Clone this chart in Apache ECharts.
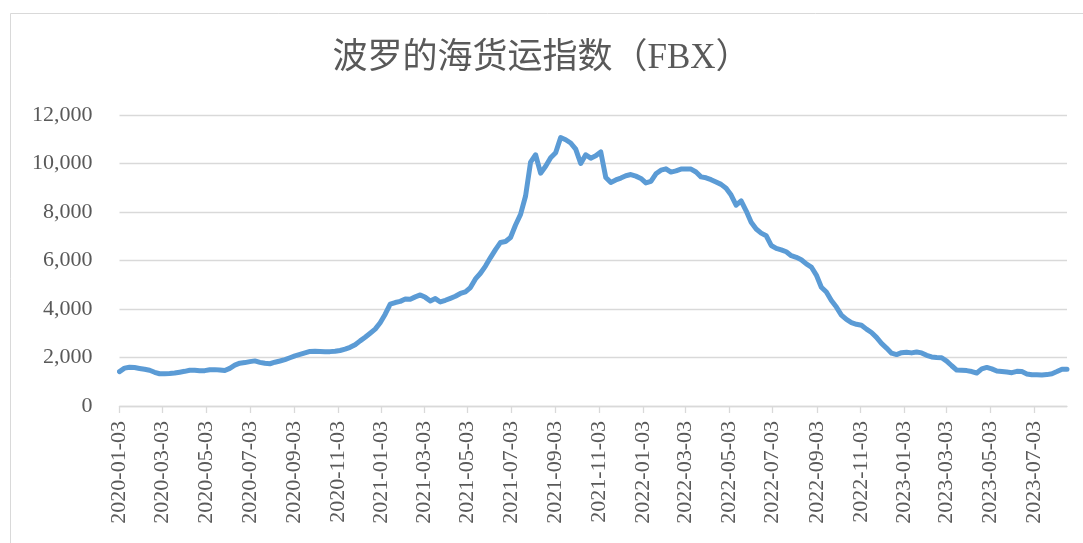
<!DOCTYPE html>
<html>
<head>
<meta charset="utf-8">
<title>波罗的海货运指数（FBX）</title>
<script src="https://cdn.jsdelivr.net/npm/echarts@6/dist/echarts.min.js"></script>
<style>
    html, body { margin: 0; padding: 0; background: #fff; }
    #fbxChart { width: 1083px; height: 543px; }
</style>
</head>
<body>
<div id="fbxChart"></div>
<script>
    // weekly readings, every Friday starting 2020-01-03
    var startDate = [2020, 1, 3];
    var fbxValues = [
        1420, 1560, 1600, 1585, 1550, 1515, 1475, 1390, 1330, 1335,
        1340, 1360, 1395, 1430, 1475, 1472, 1453, 1458, 1495, 1500,
        1482, 1462, 1553, 1683, 1765, 1790, 1830, 1860, 1800, 1760,
        1742, 1805, 1855, 1915, 1990, 2070, 2130, 2190, 2252, 2258,
        2248, 2240, 2242, 2258, 2290, 2345, 2420, 2525, 2685, 2835,
        3000, 3170, 3435, 3785, 4200, 4268, 4315, 4410, 4400, 4500,
        4580, 4480, 4330, 4430, 4290, 4360, 4440, 4525, 4640, 4708,
        4885, 5240, 5475, 5770, 6120, 6450, 6745, 6785, 6950, 7465,
        7900, 8660, 10060, 10360, 9600, 9885, 10240, 10445, 11070, 10980,
        10845, 10590, 10000, 10360, 10220, 10320, 10480, 9420, 9220, 9322,
        9400, 9497, 9545, 9480, 9385, 9200, 9265, 9575, 9725, 9780,
        9645, 9695, 9770, 9778, 9772, 9650, 9450, 9410, 9335, 9235,
        9140, 8980, 8700, 8280, 8460, 8050, 7580, 7300, 7130, 7020,
        6620, 6500, 6440, 6360, 6200, 6130, 6030, 5860, 5730, 5400,
        4900, 4700, 4350, 4080, 3750, 3570, 3440, 3370, 3330, 3170,
        3030, 2830, 2580, 2390, 2180, 2120, 2200, 2220, 2190, 2230,
        2190, 2090, 2025, 2000, 1990, 1850, 1660, 1480, 1470, 1460,
        1420, 1360, 1530, 1590, 1530, 1440, 1420, 1400, 1375, 1430,
        1420, 1320, 1285, 1285, 1282, 1295, 1330, 1420, 1520, 1520
    ];
    // x axis labels sit on the 3rd of every second month
    var tickDates = [
        '2020-01-03', '2020-03-03', '2020-05-03', '2020-07-03', '2020-09-03', '2020-11-03',
        '2021-01-03', '2021-03-03', '2021-05-03', '2021-07-03', '2021-09-03', '2021-11-03',
        '2022-01-03', '2022-03-03', '2022-05-03', '2022-07-03', '2022-09-03', '2022-11-03',
        '2023-01-03', '2023-03-03', '2023-05-03', '2023-07-03'
    ];
    var yTicks = { min: 0, max: 12000, step: 2000 };

    var toTime = function (s) {
        var p = s.split('-');
        return new Date(+p[0], +p[1] - 1, +p[2]).getTime();
    };
    var pad = function (n) { return n < 10 ? '0' + n : '' + n; };
    var fmtDate = function (t) {
        var d = new Date(t);
        return d.getFullYear() + '-' + pad(d.getMonth() + 1) + '-' + pad(d.getDate());
    };

    var seriesData = fbxValues.map(function (v, i) {
        var t = new Date(startDate[0], startDate[1] - 1, startDate[2] + 7 * i).getTime();
        return [t, v];
    });
    var tickTimes = tickDates.map(toTime);

    var labelFont = '"Liberation Serif", "Times New Roman", serif';
    var chart = echarts.init(document.getElementById('fbxChart'));
    var option = {
        animation: false,
        backgroundColor: '#ffffff',
        title: {
            text: '波罗的海货运指数（FBX）',
            left: 'center',
            top: 36,
            textStyle: {
                color: '#595959',
                fontSize: 35,
                fontWeight: 'normal',
                fontFamily: '"Liberation Serif", "Noto Sans CJK SC", serif'
            }
        },
        graphic: [{
            type: 'rect',
            silent: true,
            shape: { x: 10.5, y: 13.5, width: 1200, height: 700 },
            style: { fill: 'none', stroke: '#d9d9d9', lineWidth: 1 }
        }],
        grid: {
            left: 119.5,
            right: 16,
            top: 115,
            bottom: 137,
            containLabel: false
        },
        xAxis: {
            // timestamps on a plain value axis so ticks can go on fixed dates
            type: 'value',
            min: seriesData[0][0],
            max: seriesData[seriesData.length - 1][0],
            axisLine: { show: true, lineStyle: { color: '#d9d9d9', width: 1.3 } },
            axisTick: {
                show: true,
                length: 7,
                customValues: tickTimes,
                lineStyle: { color: '#d9d9d9', width: 1.3 }
            },
            axisLabel: {
                customValues: tickTimes,
                rotate: 90,
                margin: 15,
                color: '#595959',
                fontSize: 22,
                fontFamily: labelFont,
                formatter: function (v) { return fmtDate(v); }
            },
            splitLine: { show: false }
        },
        yAxis: {
            type: 'value',
            min: yTicks.min,
            max: yTicks.max,
            interval: yTicks.step,
            axisLine: { show: false },
            axisTick: { show: false },
            axisLabel: {
                margin: 27,
                color: '#595959',
                fontSize: 22,
                fontFamily: labelFont,
                formatter: function (v) { return v.toLocaleString('en-US'); }
            },
            splitLine: { lineStyle: { color: '#d9d9d9', width: 1.3 } }
        },
        series: [{
            name: 'FBX',
            type: 'line',
            data: seriesData,
            showSymbol: false,
            symbol: 'none',
            smooth: false,
            lineStyle: { color: '#5b9bd5', width: 5, cap: 'round', join: 'round' }
        }]
    };
    chart.setOption(option);
</script>
</body>
</html>
